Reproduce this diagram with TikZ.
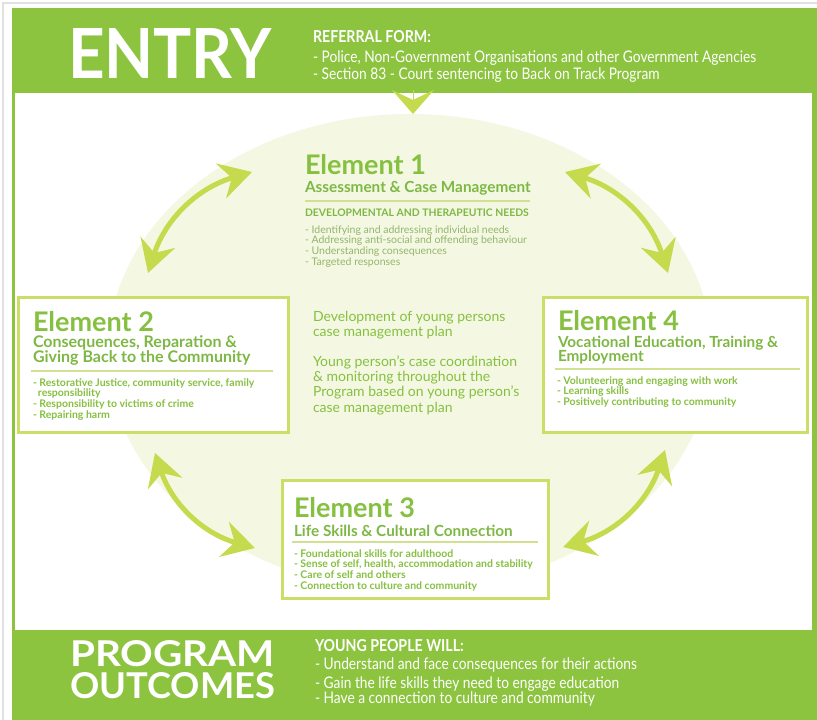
\documentclass[tikz,border=0pt]{standalone}
\usepackage{fontspec}
\setmainfont{Lato}
\newfontfamily\narrowfont[FakeStretch=0.86]{Lato}
\usetikzlibrary{arrows.meta}
\definecolor{bandgreen}{RGB}{140,196,64}
\definecolor{arrowgreen}{RGB}{197,218,76}
\definecolor{boxgreen}{RGB}{202,222,104}
\definecolor{ovalfill}{RGB}{244,248,226}
\definecolor{headgreen}{RGB}{134,192,64}
\definecolor{subgreen}{RGB}{126,184,68}
\definecolor{greygreen}{RGB}{148,182,108}
\definecolor{rulegreen}{RGB}{208,226,146}

\begin{document}
\begin{tikzpicture}[x=1pt, y=-1pt,
  every node/.style={inner sep=0pt, outer sep=0pt},
  bigword/.style={text=white, font=\bfseries, anchor=base west},
  bandhead/.style={text=white, font=\narrowfont\fontsize{16.5}{17}\selectfont\bfseries, anchor=base west},
  bandlist/.style={text=white, font=\narrowfont\fontsize{16}{17}\selectfont, anchor=base west, align=left},
  elembox/.style={draw=boxgreen, line width=3pt, fill=white, anchor=north west},
  elemtitle/.style={text=headgreen, font=\fontsize{27}{30}\selectfont\bfseries, anchor=base west},
  elemsub/.style={text=subgreen, font=\fontsize{15.3}{14.6}\selectfont\bfseries, anchor=base west, align=left},
  elemlist/.style={text=headgreen, font=\fontsize{10.5}{10.9}\selectfont\bfseries, anchor=base west, align=left},
  planlist/.style={text=headgreen, font=\fontsize{14}{15.3}\selectfont, anchor=base west, align=left},
  elemrule/.style={draw=rulegreen, line width=1.4pt},
  twoway/.style={draw=arrowgreen, line width=5pt,
    {Stealth[length=32pt, width=36pt, inset=11pt]}-{Stealth[length=32pt, width=36pt, inset=11pt]}}]

\useasboundingbox (0,0) rectangle (817,720);
\fill[white] (0,0) rectangle (817,720);
\draw[black!12, line width=1.5pt] (3,720) -- (3,3) -- (817,3);
\fill[bandgreen] (12,8) rectangle (817,720);
\fill[white] (15,93) rectangle (812,630);
\fill[ovalfill] (410,352) ellipse [x radius=302, y radius=238];

\node[bigword] (entry) at (68,78) {\resizebox{204pt}{50pt}{ENTRY}};
\node[bandhead] (referral) at (313,42) {REFERRAL FORM:};
\node[bandlist] (referrers) at (313,79) {- Police, Non-Government Organisations and other Government Agencies\\- Section 83 - Court sentencing to Back on Track Program};

\node[bigword, align=left, font=\fontsize{26}{32}\selectfont\bfseries] (outcomes) at (70,698) {\resizebox{205pt}{26pt}{PROGRAM}\\\resizebox{205pt}{26pt}{OUTCOMES}};
\node[bandhead] (youngpeople) at (315,651) {YOUNG PEOPLE WILL:};
\node[bandlist] (outcome1) at (315,669) {- Understand and face consequences for their actions};
\node[bandlist] (outcome2) at (315,688) {- Gain the life skills they need to engage education};
\node[bandlist] (outcome3) at (315,703) {- Have a connection to culture and community};

\coordinate (entryin) at (413,90);
\coordinate (elem1top) at (413,114);
\draw[arrowgreen, line width=1pt, -{Stealth[length=24pt, width=42pt, inset=10pt]}] (entryin) -- (elem1top);

\node[elemtitle] (e1) at (305,174) {Element 1};
\node[elemsub] (e1sub) at (305,192) {Assessment \& Case Management};
\draw[elemrule] (305,201) -- (530,201);
\node[text=subgreen, font=\fontsize{10.4}{11}\selectfont\bfseries, anchor=base west] (e1needs) at (305,216) {DEVELOPMENTAL AND THERAPEUTIC NEEDS};
\node[elemlist, text=greygreen, font=\fontsize{10.5}{10.9}\selectfont] (e1list) at (305,265.7) {- Identifying and addressing individual needs\\- Addressing anti-social and offending behaviour\\- Understanding consequences\\- Targeted responses};

\node[planlist] (plan) at (313,336.3) {Development of young persons\\case management plan};
\node[planlist] (coord) at (313,412) {Young person's case coordination\\\& monitoring throughout the\\Program based on young person's\\case management plan};

\node[elembox, minimum width=270, minimum height=135] (box2) at (18,297) {};
\node[elemtitle] (e2) at (33,331) {Element 2};
\node[elemsub, font=\fontsize{16}{15}\selectfont\bfseries] (e2sub) at (33,362) {Consequences, Reparation \&\\Giving Back to the Community};
\draw[elemrule] (31,371) -- (273,371);
\node[elemlist] (e2list) at (33,418.7) {- Restorative Justice, community service, family\\\hspace*{5pt}responsibility\\- Responsibility to victims of crime\\- Repairing harm};

\node[elembox, minimum width=264, minimum height=135] (box4) at (543,297) {};
\node[elemtitle] (e4) at (558,330) {Element 4};
\node[elemsub] (e4sub) at (558,361.6) {Vocational Education, Training \&\\Employment};
\draw[elemrule] (555,369) -- (800,369);
\node[elemlist] (e4list) at (557,405.8) {- Volunteering and engaging with work\\- Learning skills\\- Positively contributing to community};

\node[elembox, minimum width=266, minimum height=118] (box3) at (282,480) {};
\node[elemtitle] (e3) at (294,517) {Element 3};
\node[elemsub] (e3sub) at (294,536) {Life Skills \& Cultural Connection};
\draw[elemrule] (292,542) -- (538,542);
\node[elemlist] (e3list) at (294,589.7) {- Foundational skills for adulthood\\- Sense of self, health, accommodation and stability\\- Care of self and others\\- Connection to culture and community};

\coordinate (a12) at (148,273);
\coordinate (a21) at (252,172);
\coordinate (a14) at (565,172);
\coordinate (a41) at (668,273);
\coordinate (a43) at (665,450);
\coordinate (a34) at (563,547);
\coordinate (a32) at (255,548);
\coordinate (a23) at (155,453);
\draw[twoway] (a12) to[bend left=28] (a21);
\draw[twoway] (a14) to[bend left=28] (a41);
\draw[twoway] (a43) to[bend left=28] (a34);
\draw[twoway] (a32) to[bend left=28] (a23);

\end{tikzpicture}
\end{document}
